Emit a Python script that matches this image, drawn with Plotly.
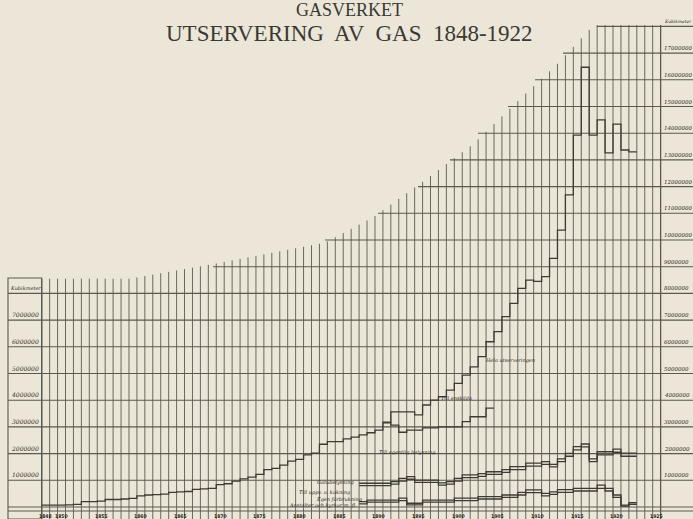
import plotly.graph_objects as go
import numpy as np

# ---------------- data (millions of cubic metres) -------------
years = list(range(1848, 1923))
total = [0.07, 0.07, 0.07, 0.08, 0.10, 0.20, 0.20, 0.22, 0.28, 0.28,
         0.30, 0.32, 0.42, 0.45, 0.46, 0.48, 0.55, 0.57, 0.58, 0.66,
         0.68, 0.70, 0.84, 0.87, 0.97, 1.05, 1.12, 1.22, 1.40, 1.45,
         1.57, 1.72, 1.78, 1.95, 2.02, 2.35, 2.45, 2.45, 2.55, 2.62,
         2.70, 2.78, 2.88, 3.18, 3.56, 3.56, 3.56, 3.45, 3.82, 4.00,
         4.13, 4.38, 4.63, 4.94, 5.25, 5.63, 6.19, 6.57, 7.13, 7.63,
         8.19, 8.50, 8.45, 8.63, 9.31, 10.37, 11.69, 13.93, 16.47, 13.93,
         14.50, 13.26, 14.34, 13.37, 13.30]

years_c = list(range(1891, 1905))
series_c = [3.15, 3.07, 2.80, 2.88, 2.88, 2.96, 2.96, 3.00, 3.00, 3.00,
            3.20, 3.38, 3.38, 3.70]

years_low = list(range(1888, 1923))
series_e = [0.89, 0.89, 0.89, 0.89, 0.95, 1.07, 1.14, 1.01, 1.01, 1.01,
            0.90, 0.95, 1.07, 1.20, 1.20, 1.25, 1.32, 1.32, 1.40, 1.51,
            1.51, 1.64, 1.64, 1.70, 1.60, 1.80, 2.01, 2.26, 2.36, 1.80,
            2.07, 2.07, 2.17, 2.02, 2.02]
series_f = [0.80, 0.80, 0.80, 0.80, 0.86, 0.97, 1.04, 0.92, 0.92, 0.92,
            0.82, 0.86, 0.97, 1.10, 1.10, 1.15, 1.22, 1.22, 1.30, 1.40,
            1.40, 1.53, 1.53, 1.60, 1.50, 1.70, 1.90, 2.14, 2.25, 1.70,
            1.95, 1.95, 2.05, 1.90, 1.90]
series_g = [0.20, 0.26, 0.26, 0.26, 0.26, 0.33, 0.14, 0.14, 0.26, 0.26,
            0.26, 0.26, 0.33, 0.33, 0.33, 0.39, 0.39, 0.39, 0.45, 0.45,
            0.55, 0.64, 0.64, 0.51, 0.57, 0.65, 0.65, 0.70, 0.70, 0.70,
            0.82, 0.70, 0.45, 0.07, 0.16]
series_h = [0.12, 0.18, 0.18, 0.18, 0.18, 0.24, 0.08, 0.08, 0.18, 0.18,
            0.18, 0.18, 0.24, 0.24, 0.24, 0.30, 0.30, 0.30, 0.36, 0.36,
            0.45, 0.54, 0.54, 0.42, 0.47, 0.55, 0.55, 0.60, 0.60, 0.60,
            0.70, 0.60, 0.36, 0.03, 0.10]

left_ticks = [1, 2, 3, 4, 5, 6, 7]
right_ticks = list(range(1, 18))
year_labels = [1848, 1850, 1855, 1860, 1865, 1870, 1875, 1880, 1885, 1890,
               1895, 1900, 1905, 1910, 1915, 1920, 1925]

series_labels = [
    ("Hela utserveringen", 1906.5, 5.5),
    ("Till enskilda", 1899.8, 4.1),
    ("Till egentlig belysning", 1893.5, 2.05),
    ("Gatubelysning", 1884.5, 0.93),
    ("Till uppv. o. kokning", 1883.2, 0.55),
    ("Egen förbrukning", 1885.0, 0.28),
    ("Anstalter och kyrkor m. fl.", 1883.0, 0.07),
]

M = 1_000_000
PAPER = "#ebe6d7"
INK = "#3c3b36"
GRID = "#5a5952"
TXT = "#2b2a26"

# pixel geometry of the scan -> data coordinates
X0PX, DX = 41.7, 7.935          # left edge of 1848 column, px per year
Y0PX, DY = 507.0, 26.7          # zero line, px per million
W, H = 693, 519
xr = [1847.5 - X0PX / DX, 1847.5 + (W - X0PX) / DX]
yr = [-(H - Y0PX) / DY * M, Y0PX / DY * M]

def px2x(px):
    return 1847.5 + (px - X0PX) / DX

def px2y(py):
    return (Y0PX - py) / DY * M

fig = go.Figure()
shapes = []

# vertical grid (year boundaries), tops follow the stepped outline
top_anchor_x = [1847.5, 1858.6, 1869.1, 1883.2, 1885.5, 1889.3, 1895.6, 1901.9, 1908.2, 1912.5, 1916.6, 1917.5, 1925.5]
top_anchor_y = [8.55, 8.55, 9.1, 9.9, 10.26, 10.86, 12.2, 13.6, 15.4, 16.6, 17.9, 18.05, 18.05]
for k in range(0, 79):
    b = 1847.5 + k
    top = float(np.interp(b, top_anchor_x, top_anchor_y))
    w = 1.3 if k in (0, 78) else 0.9
    shapes.append(dict(type="line", x0=b, x1=b, y0=yr[0], y1=top * M,
                       line=dict(color=GRID, width=w), layer="below"))

# horizontal grid lines, staircase starts for the upper levels
start_px = {9: 213, 10: 325, 11: 378, 12: 418, 13: 450, 14: 478, 15: 508, 16: 535, 17: 563, 18: 597}
for lv in range(0, 19):
    xs = px2x(start_px[lv]) if lv in start_px else px2x(8)
    shapes.append(dict(type="line", x0=xs, x1=xr[1], y0=lv * M, y1=lv * M,
                       line=dict(color=GRID, width=1.1), layer="below"))
# bottom strip line
shapes.append(dict(type="line", x0=px2x(8), x1=xr[1], y0=px2y(511), y1=px2y(511),
                   line=dict(color=GRID, width=1.0), layer="below"))
# left label box
shapes.append(dict(type="rect", x0=px2x(8), x1=1847.5, y0=yr[0], y1=px2y(278),
                   line=dict(color=GRID, width=1.1), layer="below"))

def step(xv, yv):
    xs = [v - 0.5 for v in xv] + [xv[-1] + 0.5]
    ys = [v * M for v in yv] + [yv[-1] * M]
    return xs, ys

for xv, yv in [(years, total), (years_c, series_c), (years_low, series_e),
               (years_low, series_f), (years_low, series_g), (years_low, series_h)]:
    sx, sy = step(xv, yv)
    fig.add_trace(go.Scatter(x=sx, y=sy, mode="lines", line_shape="hv",
                             line=dict(color=INK, width=1.3), hoverinfo="skip",
                             showlegend=False))

ann = []
hand = dict(family="DejaVu Serif", size=6, color=TXT)
for t in left_ticks:
    ann.append(dict(x=px2x(25), y=t * M, text=f"<i>{t*M}</i>", showarrow=False,
                    yanchor="bottom", font=hand))
ann.append(dict(x=px2x(25), y=8 * M, text="<i>Kubikmeter</i>", showarrow=False,
                yanchor="bottom", font=dict(family="DejaVu Serif", size=5, color=TXT)))
for t in right_ticks:
    ann.append(dict(x=px2x(662), y=t * M, text=f"<i>{t*M}</i>", showarrow=False,
                    xanchor="left", yanchor="bottom",
                    font=dict(family="DejaVu Serif", size=5.5, color=TXT)))
ann.append(dict(x=px2x(662), y=18 * M, text="<i>Kubikmeter</i>", showarrow=False,
                xanchor="left", yanchor="bottom",
                font=dict(family="DejaVu Serif", size=4.4, color=TXT)))
for yv in year_labels:
    ann.append(dict(x=yv, y=px2y(515.5), text=f"<b>{yv}</b>", showarrow=False,
                    font=dict(family="DejaVu Sans Condensed", size=5, color=TXT)))
for txt, xv, yv in series_labels:
    ann.append(dict(x=xv, y=yv * M, text=f"<i>{txt}</i>", showarrow=False,
                    font=dict(family="DejaVu Serif", size=5, color=TXT)))

ann.append(dict(x=0.505, y=px2y(10), text="GASVERKET", showarrow=False, xref="paper",
                font=dict(family="Liberation Serif", size=18, color="#3a3934")))
ann.append(dict(x=0.505, y=px2y(33), text="UTSERVERING  AV  GAS  1848-1922", showarrow=False,
                xref="paper", font=dict(family="Liberation Serif", size=23, color="#3a3934")))

fig.update_layout(
    width=W, height=H, margin=dict(l=0, r=0, t=0, b=0),
    paper_bgcolor=PAPER, plot_bgcolor=PAPER,
    xaxis=dict(range=xr, visible=False, fixedrange=True),
    yaxis=dict(range=yr, visible=False, fixedrange=True),
    shapes=shapes, annotations=ann, showlegend=False,
)
fig.write_html("out.html", config={"displayModeBar": False},
               post_script="document.body.style.margin='0';document.body.style.overflow='hidden';")
